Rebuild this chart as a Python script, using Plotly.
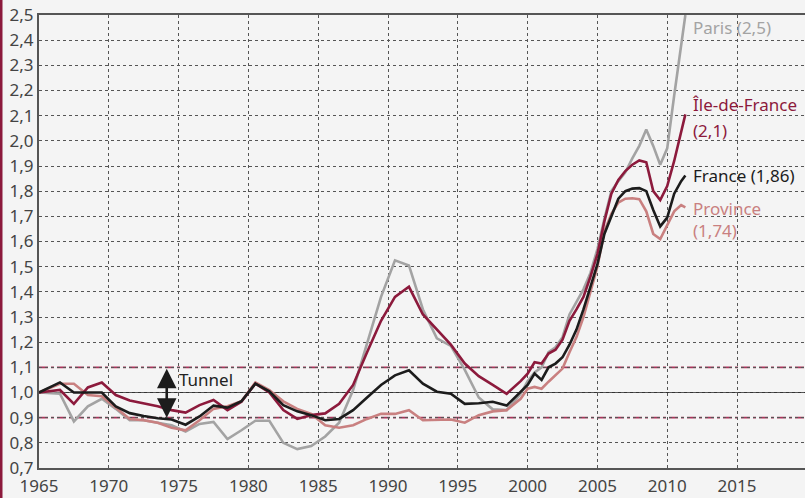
import plotly.graph_objects as go

# time axis: annual averages (plotted mid-year) then half-yearly from 2000
years = [1965.0, 1966.5, 1967.5, 1968.5, 1969.5, 1970.5, 1971.5, 1972.5, 1973.5, 1974.5,
         1975.5, 1976.5, 1977.5, 1978.5, 1979.5, 1980.5, 1981.5, 1982.5, 1983.5, 1984.5,
         1985.5, 1986.5, 1987.5, 1988.5, 1989.5, 1990.5, 1991.5, 1992.5, 1993.5, 1994.5,
         1995.5, 1996.5, 1997.5, 1998.5, 1999.5,
         2000.0, 2000.5, 2001.0, 2001.5, 2002.0, 2002.5, 2003.0, 2003.5, 2004.0, 2004.5,
         2005.0, 2005.5, 2006.0, 2006.5, 2007.0, 2007.5, 2008.0, 2008.5, 2009.0, 2009.5,
         2010.0, 2010.5, 2011.0, 2011.3]

france = [1.00, 1.04, 1.00, 1.00, 1.00, 0.945, 0.918, 0.907, 0.898, 0.893,
          0.872, 0.905, 0.948, 0.94, 0.965, 1.035, 1.005, 0.95, 0.925, 0.91,
          0.89, 0.895, 0.93, 0.98, 1.03, 1.068, 1.088, 1.035, 1.003, 0.995,
          0.955, 0.957, 0.963, 0.948, 1.00,
          1.03, 1.075, 1.05, 1.10, 1.115, 1.14, 1.19, 1.25, 1.33, 1.42,
          1.51, 1.63, 1.70, 1.77, 1.80, 1.81, 1.812, 1.80, 1.725, 1.66,
          1.695, 1.79, 1.84, 1.862]

province = [1.00, 1.035, 1.035, 0.99, 0.985, 0.94, 0.895, 0.89, 0.88, 0.86,
            0.85, 0.89, 0.935, 0.945, 0.965, 1.04, 1.01, 0.965, 0.935, 0.915,
            0.87, 0.86, 0.87, 0.895, 0.915, 0.915, 0.93, 0.89, 0.89, 0.893,
            0.88, 0.91, 0.925, 0.93, 0.975,
            1.015, 1.022, 1.015, 1.043, 1.07, 1.095, 1.16, 1.22, 1.30, 1.40,
            1.50, 1.64, 1.71, 1.755, 1.77, 1.772, 1.768, 1.72, 1.63, 1.61,
            1.665, 1.72, 1.745, 1.736]

idf = [1.00, 1.01, 0.955, 1.02, 1.04, 0.99, 0.968, 0.958, 0.945, 0.93,
       0.92, 0.95, 0.97, 0.93, 0.963, 1.035, 1.00, 0.93, 0.895, 0.91,
       0.917, 0.955, 1.03, 1.16, 1.285, 1.38, 1.42, 1.31, 1.25, 1.19,
       1.115, 1.065, 1.03, 0.995, 1.045,
       1.075, 1.12, 1.115, 1.155, 1.17, 1.21, 1.285, 1.33, 1.38, 1.46,
       1.55, 1.68, 1.79, 1.845, 1.88, 1.905, 1.922, 1.915, 1.80, 1.765,
       1.82, 1.92, 2.03, 2.105]

paris = [1.00, 0.995, 0.885, 0.945, 0.975, 0.935, 0.89, 0.89, 0.88, 0.87,
         0.845, 0.875, 0.883, 0.815, 0.85, 0.888, 0.888, 0.80, 0.775, 0.787,
         0.825, 0.88, 1.01, 1.19, 1.38, 1.525, 1.505, 1.33, 1.215, 1.185,
         1.09, 0.98, 0.933, 0.93, 0.995,
         1.045, 1.08, 1.10, 1.16, 1.18, 1.22, 1.31, 1.36, 1.41, 1.475,
         1.57, 1.69, 1.80, 1.84, 1.875, 1.93, 1.98, 2.045, 1.98, 1.905,
         1.97, 2.18, 2.38, 2.50]

x_ticks = [1965, 1970, 1975, 1980, 1985, 1990, 1995, 2000, 2005, 2010, 2015]
x_ticktext = [str(v) for v in x_ticks]
y_ticks = [0.7, 0.8, 0.9, 1.0, 1.1, 1.2, 1.3, 1.4, 1.5, 1.6, 1.7, 1.8, 1.9,
           2.0, 2.1, 2.2, 2.3, 2.4, 2.5]
y_ticktext = ["0,7", "0,8", "0,9", "1,0", "1,1", "1,2", "1,3", "1,4", "1,5", "1,6",
              "1,7", "1,8", "1,9", "2,0", "2,1", "2,2", "2,3", "2,4", "2,5"]

C_FR = "#1c1c1c"
C_IDF = "#8c1a3c"
C_PROV = "#c98080"
C_PAR = "#a3a3a3"
C_TUN = "#a8345a"
BG = "#f4f4f4"
FONT = "Noto Sans"

fig = go.Figure()
lw = 2.6
fig.add_trace(go.Scatter(x=years, y=paris, mode="lines", line=dict(color=C_PAR, width=lw), name="Paris"))
fig.add_trace(go.Scatter(x=years, y=province, mode="lines", line=dict(color=C_PROV, width=lw), name="Province"))
fig.add_trace(go.Scatter(x=years, y=idf, mode="lines", line=dict(color=C_IDF, width=lw), name="Île-de-France"))
fig.add_trace(go.Scatter(x=years, y=france, mode="lines", line=dict(color=C_FR, width=lw), name="France"))

shapes = [
    dict(type="line", xref="paper", x0=0, x1=1, yref="y", y0=1.0, y1=1.0,
         line=dict(color="#333333", width=1.2), layer="below"),
    dict(type="line", xref="paper", x0=0, x1=1, yref="y", y0=1.1, y1=1.1,
         line=dict(color=C_TUN, width=1.6, dash="dashdot"), layer="below"),
    dict(type="line", xref="paper", x0=0, x1=1, yref="y", y0=0.9, y1=0.9,
         line=dict(color=C_TUN, width=1.6, dash="dashdot"), layer="below"),
    dict(type="rect", xref="paper", x0=-39 / 766, x1=-36.5 / 766, yref="paper",
         y0=-30 / 453, y1=1 + 15 / 453, fillcolor="#8c1a3c", line=dict(width=0)),
]

LBL = 17
ann = [
    dict(x=1974.15, y=0.9, ax=1974.15, ay=1.1, xref="x", yref="y", axref="x", ayref="y",
         text="", showarrow=True, arrowhead=2, arrowside="end+start", arrowsize=1.5,
         arrowwidth=2.6, arrowcolor="#1c1c1c", standoff=0, startstandoff=0),
    dict(x=1974.9, y=1.05, xref="x", yref="y", text="Tunnel", showarrow=False,
         xanchor="left", yanchor="middle", font=dict(size=LBL, color="#222222", family=FONT)),
    dict(x=2011.7, y=2.452, xref="x", yref="y", text="Paris (2,5)", showarrow=False,
         xanchor="left", yanchor="middle", font=dict(size=LBL, color=C_PAR, family=FONT)),
    dict(x=2011.7, y=2.146, xref="x", yref="y", text="Île-de-France", showarrow=False,
         xanchor="left", yanchor="middle", font=dict(size=LBL, color=C_IDF, family=FONT)),
    dict(x=2011.7, y=2.043, xref="x", yref="y", text="(2,1)", showarrow=False,
         xanchor="left", yanchor="middle", font=dict(size=LBL, color=C_IDF, family=FONT)),
    dict(x=2011.7, y=1.864, xref="x", yref="y", text="France (1,86)", showarrow=False,
         xanchor="left", yanchor="middle", font=dict(size=LBL, color=C_FR, family=FONT)),
    dict(x=2011.7, y=1.733, xref="x", yref="y", text="Province", showarrow=False,
         xanchor="left", yanchor="middle", font=dict(size=LBL, color=C_PROV, family=FONT)),
    dict(x=2011.7, y=1.645, xref="x", yref="y", text="(1,74)", showarrow=False,
         xanchor="left", yanchor="middle", font=dict(size=LBL, color=C_PROV, family=FONT)),
]

fig.update_layout(
    width=805, height=498,
    margin=dict(l=39, r=0, t=15, b=30),
    paper_bgcolor=BG, plot_bgcolor=BG,
    showlegend=False,
    font=dict(family=FONT, size=16, color="#444444"),
    shapes=shapes, annotations=ann,
    xaxis=dict(range=[1965, 2019.87], tickvals=x_ticks, ticktext=x_ticktext,
               showgrid=True, gridcolor="#555555", gridwidth=1, griddash="dot",
               showline=True, linecolor="#555555", linewidth=2, mirror=True,
               zeroline=False, ticks="", ticklen=0, ticklabelstandoff=2,
               tickfont=dict(size=17, color="#444444", family=FONT)),
    yaxis=dict(range=[0.7, 2.5], tickvals=y_ticks, ticktext=y_ticktext,
               showgrid=True, gridcolor="#555555", gridwidth=1, griddash="dot",
               showline=True, linecolor="#555555", linewidth=2, mirror=False,
               zeroline=False, ticks="", ticklen=0,
               tickfont=dict(size=17, color="#444444", family=FONT)),
)

fig.write_html("out.html", config={"displayModeBar": False},
               post_script="document.body.style.margin='0px';document.body.style.overflow='hidden';")
